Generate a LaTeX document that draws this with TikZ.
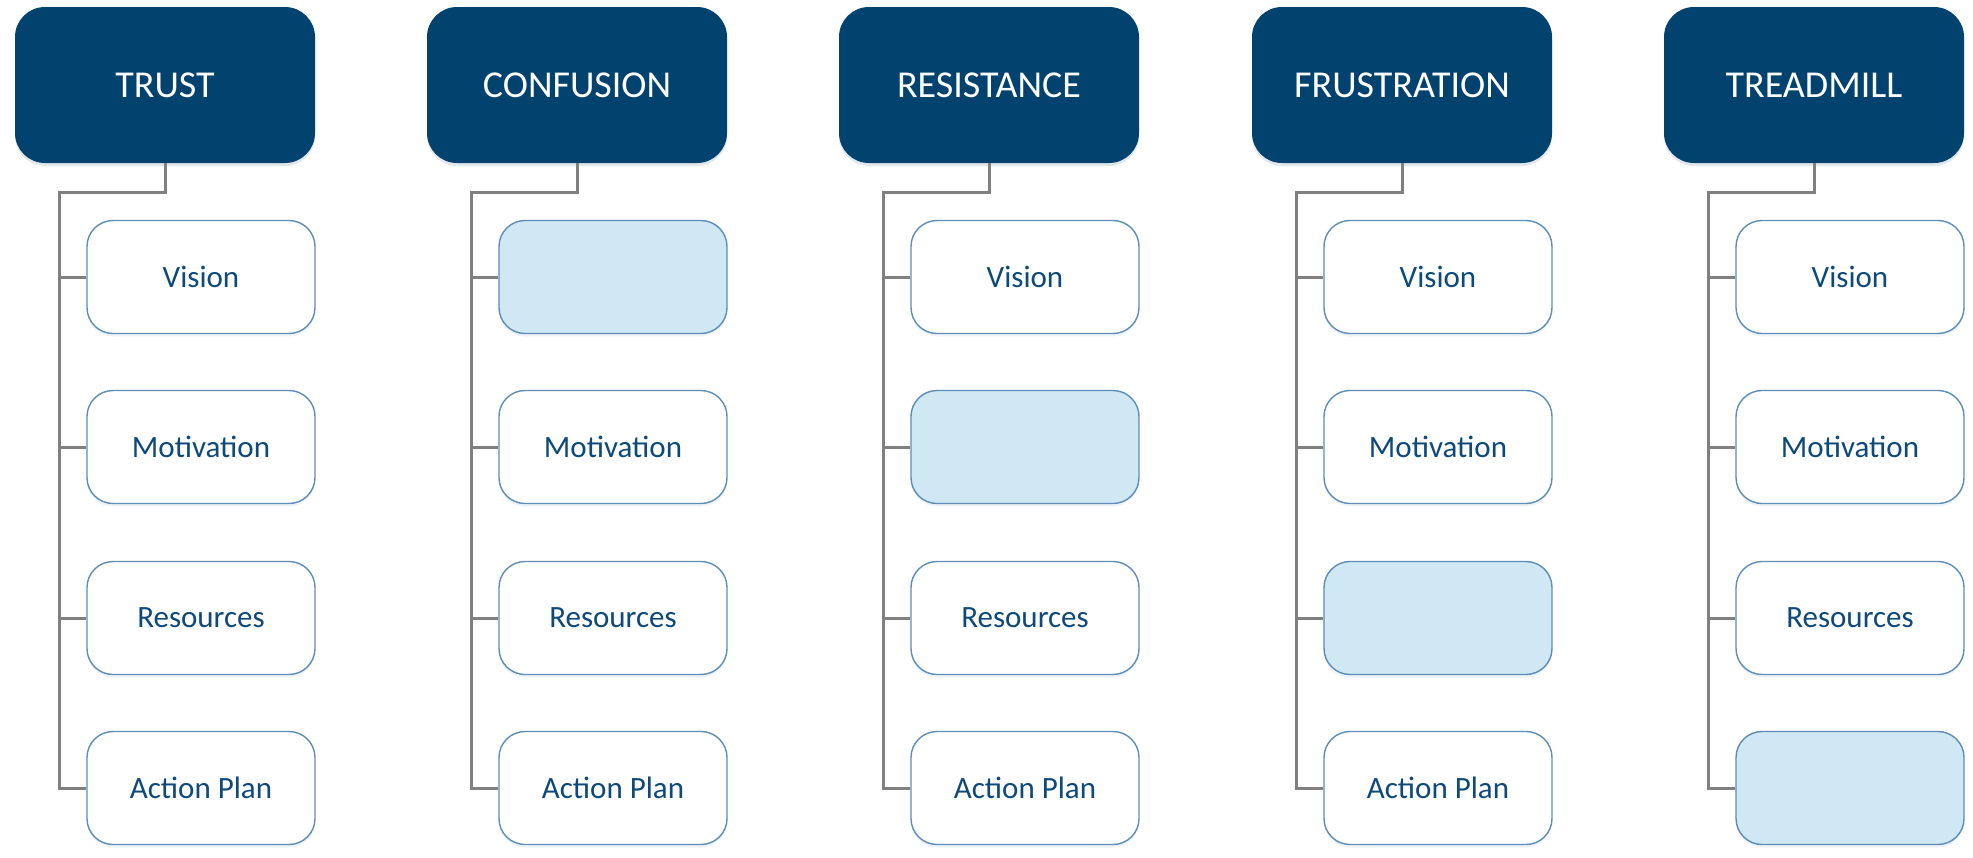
\documentclass[tikz,border=0pt]{standalone}
\usepackage{fontspec}
\setmainfont{Carlito}
\usetikzlibrary{shadows}
\definecolor{headblue}{HTML}{02426F}
\definecolor{textblue}{HTML}{0E497C}
\definecolor{edgeblue}{HTML}{5D8DB8}
\definecolor{paleblue}{HTML}{CFE8F4}
\definecolor{linkgrey}{HTML}{808080}
\tikzset{
	head/.style={fill=headblue, text=white, rounded corners=15pt, minimum width=150pt, minimum height=78pt, font=\fontsize{19}{23}\selectfont, drop shadow={shadow xshift=0pt, shadow yshift=-1.5pt, opacity=0.12, fill=headblue}},
	item/.style={draw=edgeblue, line width=0.7pt, fill=white, text=textblue, rounded corners=13pt, minimum width=114pt, minimum height=56.5pt, font=\fontsize{15.5}{18}\selectfont, drop shadow={shadow xshift=0pt, shadow yshift=-1.5pt, opacity=0.10, fill=edgeblue}},
	blank/.style={item, fill=paleblue},
	link/.style={draw=linkgrey, line width=1.5pt}
}
\begin{document}
\begin{tikzpicture}[x=0.5pt, y=-0.5pt]
			%%%%% START %%%%%
			
			\fill[white] (0, 0) rectangle (1973, 857);
			\useasboundingbox (0, 0) rectangle (1973, 857);
			
			\node[head] (trust) at (165, 85) {TRUST};
			\node[head] (confusion) at (577, 85) {CONFUSION};
			\node[head] (resistance) at (989, 85) {RESISTANCE};
			\node[head] (frustration) at (1402, 85) {FRUSTRATION};
			\node[head] (treadmill) at (1814, 85) {TREADMILL};
			
			\coordinate (trustSpine) at (59, 192);
			\coordinate (confusionSpine) at (471, 192);
			\coordinate (resistanceSpine) at (883, 192);
			\coordinate (frustrationSpine) at (1296, 192);
			\coordinate (treadmillSpine) at (1708, 192);
			
			\node[item] (trustVision) at (201, 277) {Vision};
			\node[item] (trustMotivation) at (201, 447) {Motivation};
			\node[item] (trustResources) at (201, 618) {Resources};
			\node[item] (trustAction) at (201, 788) {Action Plan};
			
			\node[blank] (confusionVision) at (613, 277) {};
			\node[item] (confusionMotivation) at (613, 447) {Motivation};
			\node[item] (confusionResources) at (613, 618) {Resources};
			\node[item] (confusionAction) at (613, 788) {Action Plan};
			
			\node[item] (resistanceVision) at (1025, 277) {Vision};
			\node[blank] (resistanceMotivation) at (1025, 447) {};
			\node[item] (resistanceResources) at (1025, 618) {Resources};
			\node[item] (resistanceAction) at (1025, 788) {Action Plan};
			
			\node[item] (frustrationVision) at (1438, 277) {Vision};
			\node[item] (frustrationMotivation) at (1438, 447) {Motivation};
			\node[blank] (frustrationResources) at (1438, 618) {};
			\node[item] (frustrationAction) at (1438, 788) {Action Plan};
			
			\node[item] (treadmillVision) at (1850, 277) {Vision};
			\node[item] (treadmillMotivation) at (1850, 447) {Motivation};
			\node[item] (treadmillResources) at (1850, 618) {Resources};
			\node[blank] (treadmillAction) at (1850, 788) {};
			
			% spines
			\draw[link] (trust.south) |- (trustSpine) -- (trustSpine |- trustAction.west) -- (trustAction.west);
			\draw[link] (confusion.south) |- (confusionSpine) -- (confusionSpine |- confusionAction.west) -- (confusionAction.west);
			\draw[link] (resistance.south) |- (resistanceSpine) -- (resistanceSpine |- resistanceAction.west) -- (resistanceAction.west);
			\draw[link] (frustration.south) |- (frustrationSpine) -- (frustrationSpine |- frustrationAction.west) -- (frustrationAction.west);
			\draw[link] (treadmill.south) |- (treadmillSpine) -- (treadmillSpine |- treadmillAction.west) -- (treadmillAction.west);
			
			% branches
			\draw[link] (trustSpine |- trustVision.west) -- (trustVision.west);
			\draw[link] (trustSpine |- trustMotivation.west) -- (trustMotivation.west);
			\draw[link] (trustSpine |- trustResources.west) -- (trustResources.west);
			
			\draw[link] (confusionSpine |- confusionVision.west) -- (confusionVision.west);
			\draw[link] (confusionSpine |- confusionMotivation.west) -- (confusionMotivation.west);
			\draw[link] (confusionSpine |- confusionResources.west) -- (confusionResources.west);
			
			\draw[link] (resistanceSpine |- resistanceVision.west) -- (resistanceVision.west);
			\draw[link] (resistanceSpine |- resistanceMotivation.west) -- (resistanceMotivation.west);
			\draw[link] (resistanceSpine |- resistanceResources.west) -- (resistanceResources.west);
			
			\draw[link] (frustrationSpine |- frustrationVision.west) -- (frustrationVision.west);
			\draw[link] (frustrationSpine |- frustrationMotivation.west) -- (frustrationMotivation.west);
			\draw[link] (frustrationSpine |- frustrationResources.west) -- (frustrationResources.west);
			
			\draw[link] (treadmillSpine |- treadmillVision.west) -- (treadmillVision.west);
			\draw[link] (treadmillSpine |- treadmillMotivation.west) -- (treadmillMotivation.west);
			\draw[link] (treadmillSpine |- treadmillResources.west) -- (treadmillResources.west);
			
			%%%%% END %%%%%
		\end{tikzpicture}
\end{document}
